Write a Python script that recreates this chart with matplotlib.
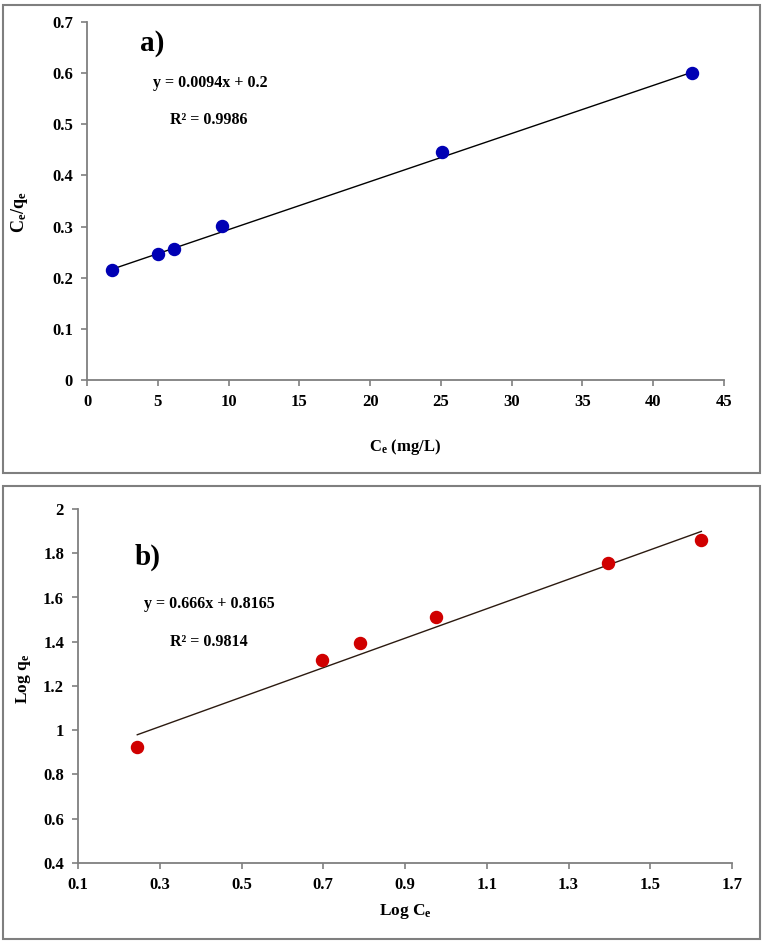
import matplotlib
matplotlib.use("Agg")
import matplotlib.pyplot as plt
import numpy as np
from matplotlib.patches import Rectangle

plt.rcParams["font.family"] = "Liberation Serif"
plt.rcParams["font.weight"] = "bold"
plt.rcParams["mathtext.fontset"] = "custom"
plt.rcParams["mathtext.rm"] = "Liberation Serif:bold"
plt.rcParams["mathtext.bf"] = "Liberation Serif:bold"
plt.rcParams["mathtext.it"] = "Liberation Serif:bold"
plt.rcParams["mathtext.default"] = "bf"

# panel a: Langmuir
ce = [1.74, 4.99, 6.17, 9.53, 25.1, 42.75]
ce_qe = [0.216, 0.247, 0.257, 0.301, 0.446, 0.600]
slope_a, icpt_a = 0.0094, 0.2

# panel b: Freundlich
log_ce = [0.245, 0.698, 0.790, 0.976, 1.396, 1.625]
log_qe = [0.924, 1.318, 1.396, 1.513, 1.757, 1.860]
slope_b, icpt_b = 0.666, 0.8165

W, H = 768, 943
fig = plt.figure(figsize=(W / 100, H / 100), dpi=100)

def box(x0, y0, x1, y1):
    fig.patches.append(Rectangle((x0 / W, 1 - y1 / H), (x1 - x0) / W, (y1 - y0) / H,
                                 transform=fig.transFigure, fill=False,
                                 edgecolor="#7f7f7f", linewidth=1.5))

def axes_px(x0, y0, x1, y1):
    return fig.add_axes([x0 / W, 1 - y1 / H, (x1 - x0) / W, (y1 - y0) / H])

def style(ax):
    for s in ["top", "right"]:
        ax.spines[s].set_visible(False)
    for s in ["left", "bottom"]:
        ax.spines[s].set_color("#7f7f7f")
        ax.spines[s].set_linewidth(1.3)
    ax.tick_params(direction="out", length=4, width=1.2, color="#7f7f7f",
                   labelsize=12, pad=6)
    for lbl in ax.get_xticklabels() + ax.get_yticklabels():
        lbl.set_fontweight("bold")

box(3, 5, 760, 473)
box(3, 486, 760, 939)

# ---- a)
ax1 = axes_px(87, 22, 724, 380)
ax1.scatter(ce, ce_qe, s=75, color="#0000b4", zorder=3)
xa = np.array([ce[0], ce[-1]])
ax1.plot(xa, slope_a * xa + icpt_a, color="black", linewidth=1)
ax1.set_xlim(0, 45)
ax1.set_ylim(0, 0.7)
ax1.set_xticks(np.arange(0, 46, 5))
ax1.set_yticks(np.arange(0, 0.71, 0.1))
ax1.set_yticklabels(["0", "0.1", "0.2", "0.3", "0.4", "0.5", "0.6", "0.7"])
style(ax1)
ax1.set_xlabel(r"C$_e$ (mg/L)", fontsize=12, fontweight="bold")
ax1.xaxis.set_label_coords(0.5, -0.16)
ax1.set_ylabel(r"C$_e$/q$_e$", fontsize=13, fontweight="bold")
ax1.yaxis.set_label_coords(-0.089, 0.47)
ax1.text(0.083, 0.941, "a)", transform=ax1.transAxes, fontsize=21,
         fontweight="bold", va="center")
ax1.text(0.104, 0.830, "y = 0.0094x + 0.2", transform=ax1.transAxes,
         fontsize=11.5, fontweight="bold", va="center")
ax1.text(0.130, 0.726, "R² = 0.9986", transform=ax1.transAxes,
         fontsize=11.5, fontweight="bold", va="center")

# ---- b)
ax2 = axes_px(78, 509, 732, 863)
ax2.scatter(log_ce, log_qe, s=75, color="#d00000", zorder=3)
xb = np.array([log_ce[0], log_ce[-1]])
ax2.plot(xb, slope_b * xb + icpt_b, color="#2b1a10", linewidth=1)
ax2.set_xlim(0.1, 1.7)
ax2.set_ylim(0.4, 2.0)
ax2.set_xticks(np.arange(0.1, 1.71, 0.2))
ax2.set_xticklabels(["0.1", "0.3", "0.5", "0.7", "0.9", "1.1", "1.3", "1.5", "1.7"])
ax2.set_yticks(np.arange(0.4, 2.01, 0.2))
ax2.set_yticklabels(["0.4", "0.6", "0.8", "1", "1.2", "1.4", "1.6", "1.8", "2"])
style(ax2)
ax2.set_xlabel(r"Log C$_e$", fontsize=12.5, fontweight="bold")
ax2.xaxis.set_label_coords(0.5, -0.11)
ax2.set_ylabel(r"Log q$_e$", fontsize=12.5, fontweight="bold")
ax2.yaxis.set_label_coords(-0.069, 0.52)
ax2.text(0.087, 0.864, "b)", transform=ax2.transAxes, fontsize=21,
         fontweight="bold", va="center")
ax2.text(0.101, 0.732, "y = 0.666x + 0.8165", transform=ax2.transAxes,
         fontsize=11.5, fontweight="bold", va="center")
ax2.text(0.141, 0.624, "R² = 0.9814", transform=ax2.transAxes,
         fontsize=11.5, fontweight="bold", va="center")

fig.savefig("out.png", dpi=100)
